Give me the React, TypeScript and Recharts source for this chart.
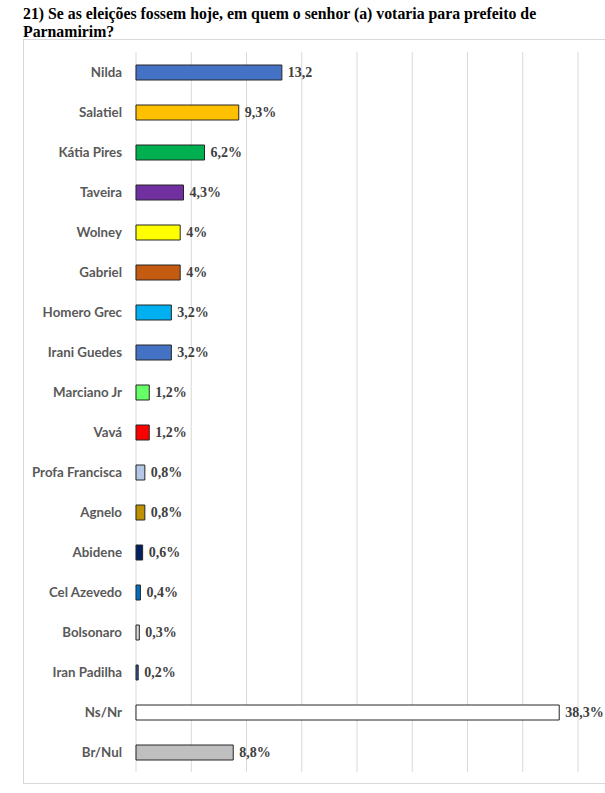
import React from "react";
import { BarChart, Bar, XAxis, YAxis, CartesianGrid, Cell, LabelList } from "recharts";

const categories = [
  "Nilda", "Salatiel", "Kátia Pires", "Taveira", "Wolney", "Gabriel", "Homero Grec",
  "Irani Guedes", "Marciano Jr", "Vavá", "Profa Francisca", "Agnelo", "Abidene",
  "Cel Azevedo", "Bolsonaro", "Iran Padilha", "Ns/Nr", "Br/Nul",
];
const values = [13.2, 9.3, 6.2, 4.3, 4, 4, 3.2, 3.2, 1.2, 1.2, 0.8, 0.8, 0.6, 0.4, 0.3, 0.2, 38.3, 8.8];
const valueLabels = [
  "13,2", "9,3%", "6,2%", "4,3%", "4%", "4%", "3,2%", "3,2%", "1,2%", "1,2%",
  "0,8%", "0,8%", "0,6%", "0,4%", "0,3%", "0,2%", "38,3%", "8,8%",
];
const colors = [
  "#4472C4", "#FFC000", "#00B050", "#7030A0", "#FFFF00", "#C55A11", "#00B0F0",
  "#4472C4", "#66FF66", "#FF0000", "#B4C7E7", "#BF9000", "#002060", "#0070C0",
  "#D9D9D9", "#2F5597", "#FFFFFF", "#BFBFBF",
];
const xTicks = [0, 5, 10, 15, 20, 25, 30, 35, 40];

const data = categories.map((name, i) => ({ name, value: values[i], label: valueLabels[i] }));

export default function App() {
  return (
    <div style={{ position: "absolute", left: 0, top: 0, width: 605, height: 793, overflow: "hidden", background: "#fff" }}>
      <div
        style={{
          position: "absolute", left: 23, top: 5, width: 575,
          fontFamily: "'Liberation Serif', 'Times New Roman', serif", fontWeight: "bold",
          fontSize: 15.8, lineHeight: "18px", color: "#000",
        }}
      >
        21) Se as eleições fossem hoje, em quem o senhor (a) votaria para prefeito de Parnamirim?
      </div>
      <div
        style={{
          position: "absolute", left: 23, top: 39, width: 640, height: 745,
          border: "1px solid #D9D9D9", boxSizing: "border-box",
        }}
      />
      <div style={{ position: "absolute", left: 0, top: 0 }}>
        <BarChart
          width={605}
          height={793}
          data={data}
          layout="vertical"
          margin={{ top: 52, right: 27, bottom: 21, left: 0 }}
        >
          <CartesianGrid horizontal={false} stroke="#D9D9D9" strokeWidth={1} />
          <XAxis type="number" domain={[0, 40]} ticks={xTicks} hide />
          <YAxis
            type="category"
            dataKey="name"
            width={136}
            axisLine={false}
            tickLine={false}
            tickSize={0}
            tickMargin={14}
            interval={0}
            tick={{ fill: "#595959", fontSize: 13.3, fontWeight: "bold", fontFamily: "Lato, 'Open Sans', sans-serif" }}
          />
          <Bar dataKey="value" barSize={15} stroke="#262626" strokeWidth={1} isAnimationActive={false}>
            {data.map((d, i) => (
              <Cell key={d.name} fill={colors[i]} />
            ))}
            <LabelList
              dataKey="label"
              position="right"
              offset={6}
              style={{ fill: "#404040", fontSize: 14, fontWeight: "bold", fontFamily: "'Liberation Serif', 'Times New Roman', serif" }}
            />
          </Bar>
        </BarChart>
      </div>
    </div>
  );
}
